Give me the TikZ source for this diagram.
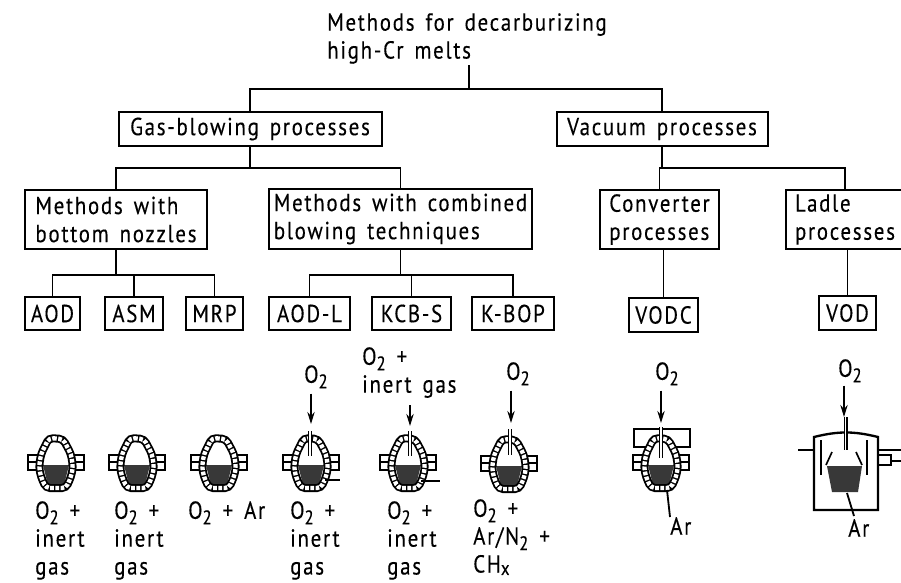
\documentclass[tikz,border=0pt]{standalone}
\usepackage{fontspec}
\setmainfont{PT Sans}[LetterSpace=7,FakeStretch=0.85,WordSpace=1.5,FakeBold=0.25]
\usepackage{tikz}
\usetikzlibrary{arrows.meta,positioning,calc}
\newcommand{\lowsub}[1]{\raisebox{-0.45ex}{\scalebox{.8}{#1}}}
\tikzset{
  converter/.pic={
    \draw[trunnion] (-28,-8) rectangle (28,7);
    \draw[trunnion] (-28,-1)--(28,-1);
    \fill[white] \vesselshape;
    \fill[melt] (-13,2)--(13,2)--(8,22)--(-8,22)--cycle;
    \draw[ringout] \vesselshape;
    \draw[ringin] \vesselshape;
  }
}
\newcommand{\vesselshape}{[rounded corners=3.5pt] (-7,-25)--(7,-24)--(15,-9)--(17,4)--(15,14)--(10,25)--(-10,25)--(-15,14)--(-17,4)--(-15,-9)--cycle}
\begin{document}
\begin{tikzpicture}[
  x=0.3mm,y=-0.3mm,
  >={Stealth[length=3.6mm,width=2.2mm]},
  lbl/.style={font=\fontsize{21}{23.8}\selectfont,align=left,inner sep=0pt},
  bx/.style={draw,line width=0.6mm,inner sep=0pt,outer sep=0pt,
             font=\fontsize{21}{24}\selectfont,align=left},
  leaf/.style={bx,minimum height=10mm},
  twoline/.style={bx,minimum height=17.8mm},
  a/.style={line width=0.55mm},
  flow/.style={line width=0.55mm,->},
  trunnion/.style={line width=0.8mm,fill=white},
  melt/.style={fill=black!78},
  ringout/.style={line width=2.4mm},
  ringin/.style={white,line width=1.3mm,dash pattern=on 1.1mm off 0.45mm},
  lance/.style={line width=0.35mm,double,double distance=0.5mm},
  node distance=6.9mm]
\useasboundingbox (0,0) rectangle (901,582);
% tree
\node[lbl,anchor=north west] (title) at (327,13) {Methods for decarburizing\\high-Cr melts};
\coordinate (root) at (469,89);
\node[bx,minimum width=78.9mm,minimum height=10.2mm] (gas) at (250,129) {Gas-blowing processes};
\node[bx,minimum width=63.3mm,minimum height=10.2mm] (vac) at (662,129) {Vacuum processes};
\draw[a] ([yshift=-1pt]root|-title.south) -- (root);
\draw[a] (gas.north) |- (root) -| (vac.north);
\node[twoline,minimum width=54.6mm] (bot) at (116,219.5) {Methods with\\bottom nozzles};
\node[twoline,minimum width=78.9mm] (comb) at (400.5,219) {Methods with combined\\blowing techniques};
\node[twoline,minimum width=35.7mm] (conv) at (659.5,219.5) {Converter\\processes};
\node[twoline,minimum width=35.4mm] (ladle) at (845,219.5) {Ladle\\processes};
\coordinate (gasbus) at (250,168);
\coordinate (vacbus) at (662,168);
\draw[a] (gas.south) -- (gasbus);
\draw[a] (bot.north) |- (gasbus) -| (comb.north);
\draw[a] (vac.south) -- (vacbus);
\draw[a] (conv.north) |- (vacbus) -| (ladle.north);
% leaves
\node[leaf,minimum width=16.5mm] (aod) at (52.5,313.5) {AOD};
\node[leaf,minimum width=17.4mm,right=7.5mm of aod] (asm) {ASM};
\node[leaf,minimum width=17.1mm,right=of asm] (mrp) {MRP};
\node[leaf,minimum width=24.3mm] (aodl) at (309.5,313.5) {AOD-L};
\node[leaf,minimum width=23.7mm,right=6.6mm of aodl] (kcbs) {KCB-S};
\node[leaf,minimum width=24.6mm,right=6.3mm of kcbs] (kbop) {K-BOP};
\node[leaf,minimum width=20.7mm] (vodc) at (663.5,315) {VODC};
\node[leaf,minimum width=17.1mm] (vod) at (847.5,313) {VOD};
\coordinate (botbus) at (116,275);
\coordinate (combbus) at (400.5,275);
\draw[a] (bot.south) -- (botbus);
\draw[a] (asm.north) -- (asm.north|-botbus);
\draw[a] (aod.north) |- (botbus) -| (mrp.north);
\draw[a] (comb.south) -- (combbus);
\draw[a] (kcbs.north) -- (kcbs.north|-combbus);
\draw[a] (aodl.north) |- (combbus) -| (kbop.north);
\draw[a] (conv.south-|vodc.north) -- (vodc.north);
\draw[a] (ladle.south-|vod.north) -- (vod.north);
% gas feeds
\node[lbl,anchor=north west] (o4) at (304,365) {O\lowsub{2}};
\node[lbl,anchor=north west] (o5) at (362,347) {O\lowsub{2} +\\inert gas};
\node[lbl,anchor=north west] (o6) at (506,362) {O\lowsub{2}};
\node[lbl,anchor=north west] (o7) at (655,362) {O\lowsub{2}};
\node[lbl,anchor=north west] (o8) at (838,359) {O\lowsub{2}};
\coordinate (in4) at (311,424);
\coordinate (in5) at (410,426);
\coordinate (in6) at (511,423);
\coordinate (in7) at (661,423);
\coordinate (in8) at (844,417);
\draw[flow] (in4|-o4.south) ++(0,5) -- (in4);
\draw[flow] (in5|-o5.south) ++(0,7) -- (in5);
\draw[flow] (in6|-o6.south) ++(0,5) -- (in6);
\draw[flow] (in7|-o7.south) ++(0,5) -- (in7);
\draw[flow] (in8|-o8.south) ++(0,3) -- (in8);
% vessels
\draw[line width=0.6mm,fill=white] (634,429) rectangle (690,447);
\pic at (56,463) {converter};
\pic at (137,463) {converter};
\pic at (219,463) {converter};
\pic at (311,463) {converter};
\pic at (408,463) {converter};
\pic at (509,464) {converter};
\pic at (661,463) {converter};
\draw[lance] (310,431) -- (310,456);
\draw[lance] (410,431) -- (410,456);
\draw[lance] (510,429) -- (510,455);
\draw[lance] (661,427) -- (661,458);
\draw[line width=0.8mm] (325,480) -- (340,480);
\draw[line width=0.8mm] (421,481) -- (440,481);
% ladle tank
\draw[line width=0.7mm] (814,510) -- (814,437) to[bend left=14] (878,437) -- (878,510) -- cycle;
\draw[line width=0.7mm] (798,450) -- (814,450);
\draw[line width=0.7mm] (878,450) -- (901,450);
\draw[line width=0.7mm] (878,455) rectangle (891,465);
\draw[line width=0.7mm] (891,461) -- (901,461);
\draw[line width=0.8mm] (821,440) -- (821,475);
\draw[line width=0.8mm] (867,440) -- (867,475);
\draw[line width=0.5mm] (826,465) -- (832,452);
\draw[line width=0.5mm] (862,465) -- (856,452);
\fill[melt] (827,466) -- (862,466) -- (858,492) -- (832,492) -- cycle;
\draw[lance] (845.5,417) -- (845.5,450);
% bottom labels
\node[lbl,anchor=north west] (g1) at (35,501) {O\lowsub{2} +\\inert\\gas};
\node[lbl,anchor=north west] (g2) at (114,501) {O\lowsub{2} +\\inert\\gas};
\node[lbl,anchor=north west] (g3) at (188,501) {O\lowsub{2} + Ar};
\node[lbl,anchor=north west] (g4) at (290,501) {O\lowsub{2} +\\inert\\gas};
\node[lbl,anchor=north west] (g5) at (387,501) {O\lowsub{2} +\\inert\\gas};
\node[lbl,anchor=north west] (g6) at (473,499) {O\lowsub{2} +\\Ar/N\lowsub{2} +\\CH\raisebox{-0.2ex}{\scalebox{.8}{x}}};
\node[lbl,anchor=north west] (ar7) at (670,517) {Ar};
\node[lbl,anchor=north west] (ar8) at (848,519) {Ar};
\coordinate (v7) at (667,490);
\coordinate (v8) at (847,493);
\draw[a] (v7) -- (ar7.north west);
\draw[a] (v8) -- ($(ar8.north west)+(6,-3)$);
\end{tikzpicture}
\end{document}
